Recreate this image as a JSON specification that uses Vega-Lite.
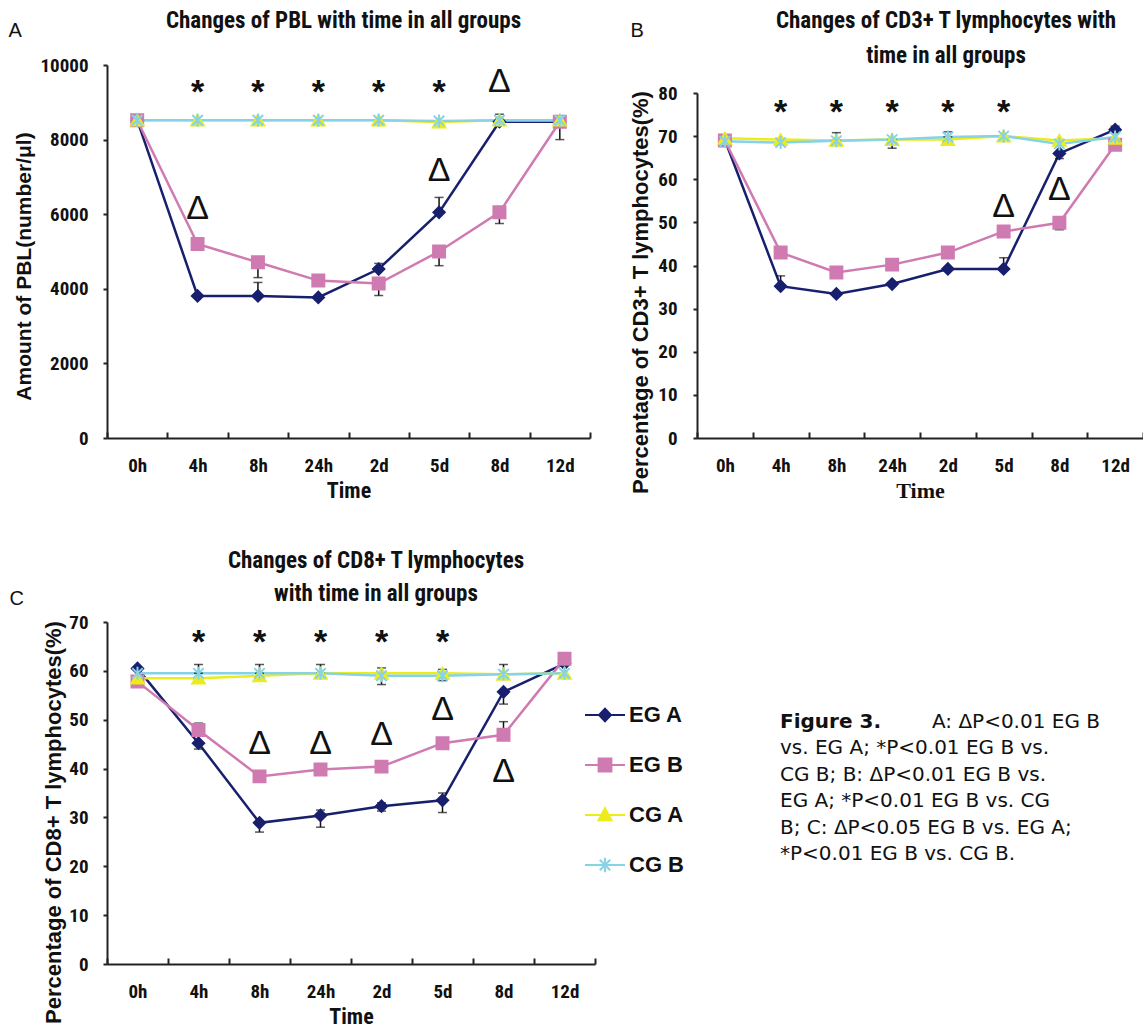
{
  "$schema": "https://vega.github.io/schema/vega-lite/v6.json",
  "background": "white",
  "padding": {"left": 8, "top": 10, "right": 0, "bottom": 0},
  "bounds": "flush",
  "columns": 2,
  "spacing": {"row": 184, "column": 102},
  "resolve": {"scale": {"x": "independent", "y": "independent", "fill": "independent", "stroke": "independent", "shape": "independent", "size": "independent"}},
  "config": {
    "view": {"stroke": null},
    "font": "Liberation Sans",
    "title": {"font": "Roboto Condensed, Liberation Sans", "fontSize": 23, "fontWeight": "bold", "color": "#111", "anchor": "middle", "frame": "group", "lineHeight": 35},
    "axisX": {"tickBand": "extent", "tickSize": -6, "tickWidth": 2, "tickColor": "#222", "domainWidth": 2, "domainColor": "#222", "labelPadding": 24, "labelAngle": 0, "labelFont": "Roboto Condensed, Liberation Sans", "labelFontSize": 19, "labelFontWeight": "bold", "labelColor": "#111", "titleFont": "Roboto Condensed, Liberation Sans", "titleFontSize": 22, "titleFontWeight": "bold", "titleColor": "#111", "titleBaseline": "middle", "titleY": 52, "grid": false},
    "axisY": {"tickSize": 4, "tickWidth": 2, "tickColor": "#222", "domainWidth": 2, "domainColor": "#222", "labelPadding": 15, "labelFont": "Roboto Condensed, Liberation Sans", "labelFontSize": 19, "labelFontWeight": "bold", "labelColor": "#111", "titleFont": "Liberation Sans", "titleFontSize": 21, "titleFontWeight": "bold", "titleColor": "#111", "titleAngle": -90, "titleBaseline": "middle", "titleAlign": "center", "grid": false}
  },
  "datasets": {
    "a_s": [
      {"group": "EG A", "time": "0h", "v": 8520}, {"group": "EG A", "time": "4h", "v": 3810}, {"group": "EG A", "time": "8h", "v": 3810}, {"group": "EG A", "time": "24h", "v": 3770}, {"group": "EG A", "time": "2d", "v": 4530}, {"group": "EG A", "time": "5d", "v": 6050}, {"group": "EG A", "time": "8d", "v": 8480}, {"group": "EG A", "time": "12d", "v": 8480},
      {"group": "EG B", "time": "0h", "v": 8520}, {"group": "EG B", "time": "4h", "v": 5200}, {"group": "EG B", "time": "8h", "v": 4710}, {"group": "EG B", "time": "24h", "v": 4220}, {"group": "EG B", "time": "2d", "v": 4140}, {"group": "EG B", "time": "5d", "v": 5000}, {"group": "EG B", "time": "8d", "v": 6050}, {"group": "EG B", "time": "12d", "v": 8480},
      {"group": "CG A", "time": "0h", "v": 8520}, {"group": "CG A", "time": "4h", "v": 8520}, {"group": "CG A", "time": "8h", "v": 8520}, {"group": "CG A", "time": "24h", "v": 8520}, {"group": "CG A", "time": "2d", "v": 8520}, {"group": "CG A", "time": "5d", "v": 8470}, {"group": "CG A", "time": "8d", "v": 8520}, {"group": "CG A", "time": "12d", "v": 8520},
      {"group": "CG B", "time": "0h", "v": 8520}, {"group": "CG B", "time": "4h", "v": 8520}, {"group": "CG B", "time": "8h", "v": 8520}, {"group": "CG B", "time": "24h", "v": 8520}, {"group": "CG B", "time": "2d", "v": 8520}, {"group": "CG B", "time": "5d", "v": 8500}, {"group": "CG B", "time": "8d", "v": 8520}, {"group": "CG B", "time": "12d", "v": 8520}
    ],
    "a_e": [
      {"group": "EG A", "time": "8h", "lo": 3810, "hi": 4170}, {"group": "EG A", "time": "2d", "lo": 4530, "hi": 4680}, {"group": "EG A", "time": "5d", "lo": 6050, "hi": 6450}, {"group": "EG A", "time": "8d", "lo": 8480, "hi": 8680},
      {"group": "EG B", "time": "8h", "lo": 4300, "hi": 4710}, {"group": "EG B", "time": "2d", "lo": 3820, "hi": 4140}, {"group": "EG B", "time": "5d", "lo": 4620, "hi": 5000}, {"group": "EG B", "time": "8d", "lo": 5750, "hi": 6050}, {"group": "EG B", "time": "12d", "lo": 8000, "hi": 8480}
    ],
    "a_n": [
      {"time": "4h", "sym": "*", "v": 9460}, {"time": "8h", "sym": "*", "v": 9460}, {"time": "24h", "sym": "*", "v": 9460}, {"time": "2d", "sym": "*", "v": 9460}, {"time": "5d", "sym": "*", "v": 9460},
      {"time": "8d", "sym": "Δ", "v": 9600}, {"time": "4h", "sym": "Δ", "v": 6190}, {"time": "5d", "sym": "Δ", "v": 7220}
    ],
    "b_s": [
      {"group": "EG A", "time": "0h", "v": 69.1}, {"group": "EG A", "time": "4h", "v": 35.2}, {"group": "EG A", "time": "8h", "v": 33.4}, {"group": "EG A", "time": "24h", "v": 35.7}, {"group": "EG A", "time": "2d", "v": 39.2}, {"group": "EG A", "time": "5d", "v": 39.2}, {"group": "EG A", "time": "8d", "v": 66.0}, {"group": "EG A", "time": "12d", "v": 71.5},
      {"group": "EG B", "time": "0h", "v": 69.0}, {"group": "EG B", "time": "4h", "v": 43.0}, {"group": "EG B", "time": "8h", "v": 38.4}, {"group": "EG B", "time": "24h", "v": 40.2}, {"group": "EG B", "time": "2d", "v": 43.0}, {"group": "EG B", "time": "5d", "v": 47.9}, {"group": "EG B", "time": "8d", "v": 49.9}, {"group": "EG B", "time": "12d", "v": 68.0},
      {"group": "CG A", "time": "0h", "v": 69.5}, {"group": "CG A", "time": "4h", "v": 69.2}, {"group": "CG A", "time": "8h", "v": 69.0}, {"group": "CG A", "time": "24h", "v": 69.2}, {"group": "CG A", "time": "2d", "v": 69.2}, {"group": "CG A", "time": "5d", "v": 70.0}, {"group": "CG A", "time": "8d", "v": 69.0}, {"group": "CG A", "time": "12d", "v": 69.5},
      {"group": "CG B", "time": "0h", "v": 68.8}, {"group": "CG B", "time": "4h", "v": 68.5}, {"group": "CG B", "time": "8h", "v": 68.9}, {"group": "CG B", "time": "24h", "v": 69.2}, {"group": "CG B", "time": "2d", "v": 69.8}, {"group": "CG B", "time": "5d", "v": 70.0}, {"group": "CG B", "time": "8d", "v": 68.2}, {"group": "CG B", "time": "12d", "v": 69.8}
    ],
    "b_e": [
      {"group": "EG A", "time": "4h", "lo": 35.2, "hi": 37.6}, {"group": "EG A", "time": "5d", "lo": 39.2, "hi": 41.8}, {"group": "EG A", "time": "8d", "lo": 64.8, "hi": 66.0}, {"group": "EG A", "time": "12d", "lo": 71.5, "hi": 72.3},
      {"group": "EG B", "time": "8d", "lo": 48.3, "hi": 49.9},
      {"group": "CG A", "time": "8h", "lo": 69.0, "hi": 70.8}, {"group": "CG A", "time": "24h", "lo": 67.2, "hi": 69.2}, {"group": "CG B", "time": "2d", "lo": 69.8, "hi": 71.0}
    ],
    "b_n": [
      {"time": "4h", "sym": "*", "v": 77.3}, {"time": "8h", "sym": "*", "v": 77.3}, {"time": "24h", "sym": "*", "v": 77.3}, {"time": "2d", "sym": "*", "v": 77.3}, {"time": "5d", "sym": "*", "v": 77.3},
      {"time": "5d", "sym": "Δ", "v": 54.0}, {"time": "8d", "sym": "Δ", "v": 57.9}
    ],
    "c_s": [
      {"group": "EG A", "time": "0h", "v": 60.5}, {"group": "EG A", "time": "4h", "v": 45.2}, {"group": "EG A", "time": "8h", "v": 28.9}, {"group": "EG A", "time": "24h", "v": 30.4}, {"group": "EG A", "time": "2d", "v": 32.3}, {"group": "EG A", "time": "5d", "v": 33.5}, {"group": "EG A", "time": "8d", "v": 55.7}, {"group": "EG A", "time": "12d", "v": 61.5},
      {"group": "EG B", "time": "0h", "v": 57.8}, {"group": "EG B", "time": "4h", "v": 47.9}, {"group": "EG B", "time": "8h", "v": 38.4}, {"group": "EG B", "time": "24h", "v": 39.8}, {"group": "EG B", "time": "2d", "v": 40.4}, {"group": "EG B", "time": "5d", "v": 45.2}, {"group": "EG B", "time": "8d", "v": 46.9}, {"group": "EG B", "time": "12d", "v": 62.5},
      {"group": "CG A", "time": "0h", "v": 58.5}, {"group": "CG A", "time": "4h", "v": 58.5}, {"group": "CG A", "time": "8h", "v": 59.0}, {"group": "CG A", "time": "24h", "v": 59.5}, {"group": "CG A", "time": "2d", "v": 59.5}, {"group": "CG A", "time": "5d", "v": 59.5}, {"group": "CG A", "time": "8d", "v": 59.3}, {"group": "CG A", "time": "12d", "v": 59.5},
      {"group": "CG B", "time": "0h", "v": 59.5}, {"group": "CG B", "time": "4h", "v": 59.5}, {"group": "CG B", "time": "8h", "v": 59.5}, {"group": "CG B", "time": "24h", "v": 59.5}, {"group": "CG B", "time": "2d", "v": 59.0}, {"group": "CG B", "time": "5d", "v": 59.0}, {"group": "CG B", "time": "8d", "v": 59.3}, {"group": "CG B", "time": "12d", "v": 59.5}
    ],
    "c_e": [
      {"group": "EG A", "time": "4h", "lo": 44.0, "hi": 45.2}, {"group": "EG A", "time": "8h", "lo": 27.0, "hi": 28.9}, {"group": "EG A", "time": "24h", "lo": 28.0, "hi": 31.5}, {"group": "EG A", "time": "2d", "lo": 31.3, "hi": 33.0}, {"group": "EG A", "time": "5d", "lo": 31.0, "hi": 35.0}, {"group": "EG A", "time": "8d", "lo": 53.2, "hi": 55.7},
      {"group": "EG B", "time": "4h", "lo": 47.9, "hi": 49.3}, {"group": "EG B", "time": "8d", "lo": 46.9, "hi": 49.6},
      {"group": "CG B", "time": "4h", "lo": 59.5, "hi": 61.3}, {"group": "CG B", "time": "8h", "lo": 59.5, "hi": 61.3}, {"group": "CG B", "time": "24h", "lo": 59.5, "hi": 61.3}, {"group": "CG B", "time": "2d", "lo": 57.2, "hi": 60.6}, {"group": "CG B", "time": "5d", "lo": 58.0, "hi": 60.3}, {"group": "CG B", "time": "8d", "lo": 59.3, "hi": 61.3}
    ],
    "c_n": [
      {"time": "4h", "sym": "*", "v": 67.3}, {"time": "8h", "sym": "*", "v": 67.3}, {"time": "24h", "sym": "*", "v": 67.3}, {"time": "2d", "sym": "*", "v": 67.3}, {"time": "5d", "sym": "*", "v": 67.3},
      {"time": "8h", "sym": "Δ", "v": 45.5}, {"time": "24h", "sym": "Δ", "v": 45.5}, {"time": "2d", "sym": "Δ", "v": 47.2}, {"time": "5d", "sym": "Δ", "v": 52.3}, {"time": "8d", "sym": "Δ", "v": 39.8}
    ],
    "cap": [
      {"line": 1, "part": "label", "text": "Figure 3."},
      {"line": 1, "part": "tail", "text": "A: ΔP<0.01 EG B"},
      {"line": 2, "part": "body", "text": "vs. EG A; *P<0.01 EG B vs."},
      {"line": 3, "part": "body", "text": "CG B; B: ΔP<0.01 EG B vs."},
      {"line": 4, "part": "body", "text": "EG A; *P<0.01 EG B vs. CG"},
      {"line": 5, "part": "body", "text": "B; C: ΔP<0.05 EG B vs. EG A;"},
      {"line": 6, "part": "body", "text": "*P<0.01 EG B vs. CG B."}
    ]
  },
  "concat": [
    {
      "width": 483, "height": 373,
      "title": {"text": "Changes of PBL with time in all groups", "dx": -5, "offset": -13},
      "resolve": {"axis": {"x": "independent"}},
      "layer": [
        {"data": {"name": "a_s"}, "mark": {"type": "line", "strokeWidth": 2.5},
         "encoding": {
           "x": {"field": "time", "type": "ordinal", "sort": ["0h","4h","8h","24h","2d","5d","8d","12d"], "scale": {"type": "band", "paddingInner": 0, "paddingOuter": 0}, "axis": {"title": "Time"}},
           "y": {"field": "v", "type": "quantitative", "title": "Amount of PBL(number/μl)", "scale": {"domain": [0, 10000]}, "axis": {"title": "Amount of PBL(number/μl)", "values": [0, 2000, 4000, 6000, 8000, 10000], "format": "d", "titleX": -83, "titleY": 201}},
           "stroke": {"field": "group", "type": "nominal", "scale": {"domain": ["EG A","EG B","CG A","CG B"], "range": ["#18206e","#d07ab2","#ecec1c","#86d3e8"]}, "legend": null}}},
        {"data": {"name": "a_e"}, "mark": {"type": "errorbar", "ticks": true, "color": "#111", "thickness": 1.5, "size": 9},
         "encoding": {
           "x": {"field": "time", "type": "ordinal", "sort": ["0h","4h","8h","24h","2d","5d","8d","12d"], "axis": null},
           "y": {"field": "lo", "type": "quantitative", "title": "Amount of PBL(number/μl)"},
           "y2": {"field": "hi"}}},
        {"data": {"name": "a_s"}, "mark": {"type": "point", "filled": true, "opacity": 1, "strokeWidth": 2},
         "encoding": {
           "x": {"field": "time", "type": "ordinal", "sort": ["0h","4h","8h","24h","2d","5d","8d","12d"], "axis": null},
           "y": {"field": "v", "type": "quantitative", "title": "Amount of PBL(number/μl)"},
           "fill": {"field": "group", "type": "nominal", "scale": {"domain": ["EG A","EG B","CG A","CG B"], "range": ["#18206e","#d07ab2","#ecec1c","#86d3e8"]}, "legend": null},
           "stroke": {"field": "group", "type": "nominal", "scale": {"domain": ["EG A","EG B","CG A","CG B"], "range": ["#18206e","#d07ab2","#ecec1c","#86d3e8"]}, "legend": null},
           "shape": {"field": "group", "type": "nominal", "scale": {"domain": ["EG A","EG B","CG A","CG B"], "range": ["diamond","square","triangle-up","M-0.8,-0.8L0.8,0.8M-0.8,0.8L0.8,-0.8M0,-1V1"]}, "legend": null},
           "size": {"field": "group", "type": "nominal", "scale": {"domain": ["EG A","EG B","CG A","CG B"], "range": [130, 170, 140, 180]}, "legend": null}}},
        {"data": {"name": "a_n"}, "transform": [{"filter": "datum.sym == '*'"}],
         "mark": {"type": "text", "font": "Liberation Sans", "fontSize": 34, "fontWeight": "bold", "dy": 8, "color": "#111"},
         "encoding": {
           "x": {"field": "time", "type": "ordinal", "sort": ["0h","4h","8h","24h","2d","5d","8d","12d"], "axis": null},
           "y": {"field": "v", "type": "quantitative", "title": "Amount of PBL(number/μl)"},
           "text": {"field": "sym"}}},
        {"data": {"name": "a_n"}, "transform": [{"filter": "datum.sym != '*'"}],
         "mark": {"type": "text", "font": "Liberation Sans", "fontSize": 34, "dy": 2, "color": "#111"},
         "encoding": {
           "x": {"field": "time", "type": "ordinal", "sort": ["0h","4h","8h","24h","2d","5d","8d","12d"], "axis": {"orient": "top", "title": "A", "titleX": -99, "titleY": -35, "titleAngle": 0, "titleAlign": "left", "titleBaseline": "middle", "titleFont": "Liberation Sans", "titleFontSize": 20, "titleFontWeight": "normal", "labels": false, "ticks": false, "domain": false}},
           "y": {"field": "v", "type": "quantitative", "title": "Amount of PBL(number/μl)"},
           "text": {"field": "sym"}}}
      ]
    },
    {
      "width": 446, "height": 373,
      "title": {"text": ["Changes of CD3+ T lymphocytes with", "time in all groups"], "dx": 26, "offset": -48},
      "resolve": {"axis": {"x": "independent"}},
      "layer": [
        {"data": {"name": "b_s"}, "mark": {"type": "line", "strokeWidth": 2.5},
         "encoding": {
           "x": {"field": "time", "type": "ordinal", "sort": ["0h","4h","8h","24h","2d","5d","8d","12d"], "scale": {"type": "band", "paddingInner": 0, "paddingOuter": 0}, "axis": {"title": "Time", "titleFont": "Liberation Serif", "titleFontSize": 22}},
           "y": {"field": "v", "type": "quantitative", "title": "Percentage of CD3+ T lymphocytes(%)", "scale": {"domain": [0, 80], "range": [373, 28]}, "axis": {"title": "Percentage of CD3+ T lymphocytes(%)", "values": [0, 10, 20, 30, 40, 50, 60, 70, 80], "titleX": -57, "titleY": 227, "titleFontSize": 22, "labelPadding": 16}},
           "stroke": {"field": "group", "type": "nominal", "scale": {"domain": ["EG A","EG B","CG A","CG B"], "range": ["#18206e","#d07ab2","#ecec1c","#86d3e8"]}, "legend": null}}},
        {"data": {"name": "b_e"}, "mark": {"type": "errorbar", "ticks": true, "color": "#111", "thickness": 1.5, "size": 9},
         "encoding": {
           "x": {"field": "time", "type": "ordinal", "sort": ["0h","4h","8h","24h","2d","5d","8d","12d"], "axis": null},
           "y": {"field": "lo", "type": "quantitative", "title": "Percentage of CD3+ T lymphocytes(%)"},
           "y2": {"field": "hi"}}},
        {"data": {"name": "b_s"}, "mark": {"type": "point", "filled": true, "opacity": 1, "strokeWidth": 2},
         "encoding": {
           "x": {"field": "time", "type": "ordinal", "sort": ["0h","4h","8h","24h","2d","5d","8d","12d"], "axis": null},
           "y": {"field": "v", "type": "quantitative", "title": "Percentage of CD3+ T lymphocytes(%)"},
           "fill": {"field": "group", "type": "nominal", "scale": {"domain": ["EG A","EG B","CG A","CG B"], "range": ["#18206e","#d07ab2","#ecec1c","#86d3e8"]}, "legend": null},
           "stroke": {"field": "group", "type": "nominal", "scale": {"domain": ["EG A","EG B","CG A","CG B"], "range": ["#18206e","#d07ab2","#ecec1c","#86d3e8"]}, "legend": null},
           "shape": {"field": "group", "type": "nominal", "scale": {"domain": ["EG A","EG B","CG A","CG B"], "range": ["diamond","square","triangle-up","M-0.8,-0.8L0.8,0.8M-0.8,0.8L0.8,-0.8M0,-1V1"]}, "legend": null},
           "size": {"field": "group", "type": "nominal", "scale": {"domain": ["EG A","EG B","CG A","CG B"], "range": [130, 170, 140, 180]}, "legend": null}}},
        {"data": {"name": "b_n"}, "transform": [{"filter": "datum.sym == '*'"}],
         "mark": {"type": "text", "font": "Liberation Sans", "fontSize": 34, "fontWeight": "bold", "dy": 8, "color": "#111"},
         "encoding": {
           "x": {"field": "time", "type": "ordinal", "sort": ["0h","4h","8h","24h","2d","5d","8d","12d"], "axis": null},
           "y": {"field": "v", "type": "quantitative", "title": "Percentage of CD3+ T lymphocytes(%)"},
           "text": {"field": "sym"}}},
        {"data": {"name": "b_n"}, "transform": [{"filter": "datum.sym != '*'"}],
         "mark": {"type": "text", "font": "Liberation Sans", "fontSize": 34, "dy": 2, "color": "#111"},
         "encoding": {
           "x": {"field": "time", "type": "ordinal", "sort": ["0h","4h","8h","24h","2d","5d","8d","12d"], "axis": {"orient": "top", "title": "B", "titleX": -67, "titleY": -35, "titleAngle": 0, "titleAlign": "left", "titleBaseline": "middle", "titleFont": "Liberation Sans", "titleFontSize": 20, "titleFontWeight": "normal", "labels": false, "ticks": false, "domain": false}},
           "y": {"field": "v", "type": "quantitative", "title": "Percentage of CD3+ T lymphocytes(%)"},
           "text": {"field": "sym"}}}
      ]
    },
    {
      "width": 488, "height": 342,
      "title": {"text": ["Changes of CD8+ T lymphocytes", "with time in all groups"], "dx": 25, "offset": -18, "lineHeight": 33},
      "resolve": {"axis": {"x": "independent"}, "scale": {"fill": "independent", "stroke": "independent", "shape": "independent", "size": "independent"}},
      "layer": [
        {"data": {"name": "c_s"}, "mark": {"type": "line", "strokeWidth": 2.5},
         "encoding": {
           "x": {"field": "time", "type": "ordinal", "sort": ["0h","4h","8h","24h","2d","5d","8d","12d"], "scale": {"type": "band", "paddingInner": 0, "paddingOuter": 0}, "axis": {"title": "Time"}},
           "y": {"field": "v", "type": "quantitative", "title": "Percentage of CD8+ T lymphocytes(%)", "scale": {"domain": [0, 70]}, "axis": {"title": "Percentage of CD8+ T lymphocytes(%)", "values": [0, 10, 20, 30, 40, 50, 60, 70], "titleX": -54, "titleY": 200, "titleFontSize": 22}},
           "stroke": {"field": "group", "type": "nominal", "scale": {"domain": ["EG A","EG B","CG A","CG B"], "range": ["#18206e","#d07ab2","#ecec1c","#86d3e8"]}, "legend": null}}},
        {"data": {"name": "c_e"}, "mark": {"type": "errorbar", "ticks": true, "color": "#111", "thickness": 1.5, "size": 9},
         "encoding": {
           "x": {"field": "time", "type": "ordinal", "sort": ["0h","4h","8h","24h","2d","5d","8d","12d"], "axis": null},
           "y": {"field": "lo", "type": "quantitative", "title": "Percentage of CD8+ T lymphocytes(%)"},
           "y2": {"field": "hi"}}},
        {"data": {"name": "c_s"}, "mark": {"type": "point", "filled": true, "opacity": 1, "strokeWidth": 2},
         "encoding": {
           "x": {"field": "time", "type": "ordinal", "sort": ["0h","4h","8h","24h","2d","5d","8d","12d"], "axis": null},
           "y": {"field": "v", "type": "quantitative", "title": "Percentage of CD8+ T lymphocytes(%)"},
           "fill": {"field": "group", "type": "nominal", "scale": {"domain": ["EG A","EG B","CG A","CG B"], "range": ["#18206e","#d07ab2","#ecec1c","#86d3e8"]}, "legend": null},
           "stroke": {"field": "group", "type": "nominal", "scale": {"domain": ["EG A","EG B","CG A","CG B"], "range": ["#18206e","#d07ab2","#ecec1c","#86d3e8"]}, "legend": null},
           "shape": {"field": "group", "type": "nominal", "scale": {"domain": ["EG A","EG B","CG A","CG B"], "range": ["diamond","square","triangle-up","M-0.8,-0.8L0.8,0.8M-0.8,0.8L0.8,-0.8M0,-1V1"]}, "legend": null},
           "size": {"field": "group", "type": "nominal", "scale": {"domain": ["EG A","EG B","CG A","CG B"], "range": [130, 170, 140, 180]}, "legend": null}}},
        {"data": {"name": "c_s"}, "mark": {"type": "point", "filled": true, "opacity": 0},
         "encoding": {
           "x": {"field": "time", "type": "ordinal", "sort": ["0h","4h","8h","24h","2d","5d","8d","12d"], "axis": null},
           "y": {"field": "v", "type": "quantitative", "title": "Percentage of CD8+ T lymphocytes(%)"},
           "fill": {"field": "group", "type": "nominal", "scale": {"domain": ["EG A","EG B","CG A","CG B"], "range": ["#18206e","#d07ab2","#ecec1c","#86d3e8"]},
             "legend": {"orient": "none", "legendX": 477, "legendY": 72, "title": null, "symbolSize": 1600, "symbolStrokeWidth": 2, "symbolOpacity": 1, "labelFont": "Liberation Sans", "labelFontSize": 22, "labelFontWeight": "bold", "labelColor": "#111", "labelOffset": 3, "rowPadding": 18, "padding": 0, "labelLimit": 200}},
           "stroke": {"field": "group", "type": "nominal", "scale": {"domain": ["EG A","EG B","CG A","CG B"], "range": ["#18206e","#d07ab2","#ecec1c","#86d3e8"]},
             "legend": {"orient": "none", "legendX": 477, "legendY": 72, "title": null, "symbolSize": 1600, "symbolStrokeWidth": 2, "symbolOpacity": 1, "labelFont": "Liberation Sans", "labelFontSize": 22, "labelFontWeight": "bold", "labelColor": "#111", "labelOffset": 3, "rowPadding": 18, "padding": 0, "labelLimit": 200}},
           "shape": {"field": "group", "type": "nominal", "scale": {"domain": ["EG A","EG B","CG A","CG B"], "range": ["M-1,0H1M0,-0.32L0.3,0L0,0.32L-0.3,0Z", "M-1,0H1M-0.32,-0.32H0.32V0.32H-0.32Z", "M-1,0H1M0,-0.34L0.32,0.26H-0.32Z", "M-1,0H1M-0.26,-0.26L0.26,0.26M-0.26,0.26L0.26,-0.26M0,-0.36V0.36"]},
             "legend": {"orient": "none", "legendX": 477, "legendY": 72, "title": null, "symbolSize": 1600, "symbolStrokeWidth": 2, "symbolOpacity": 1, "labelFont": "Liberation Sans", "labelFontSize": 22, "labelFontWeight": "bold", "labelColor": "#111", "labelOffset": 3, "rowPadding": 18, "padding": 0, "labelLimit": 200}}}},
        {"data": {"name": "c_n"}, "transform": [{"filter": "datum.sym == '*'"}],
         "mark": {"type": "text", "font": "Liberation Sans", "fontSize": 34, "fontWeight": "bold", "dy": 8, "color": "#111"},
         "encoding": {
           "x": {"field": "time", "type": "ordinal", "sort": ["0h","4h","8h","24h","2d","5d","8d","12d"], "axis": null},
           "y": {"field": "v", "type": "quantitative", "title": "Percentage of CD8+ T lymphocytes(%)"},
           "text": {"field": "sym"}}},
        {"data": {"name": "c_n"}, "transform": [{"filter": "datum.sym != '*'"}],
         "mark": {"type": "text", "font": "Liberation Sans", "fontSize": 34, "dy": 2, "color": "#111"},
         "encoding": {
           "x": {"field": "time", "type": "ordinal", "sort": ["0h","4h","8h","24h","2d","5d","8d","12d"], "axis": {"orient": "top", "title": "C", "titleX": -98, "titleY": -24, "titleAngle": 0, "titleAlign": "left", "titleBaseline": "middle", "titleFont": "Liberation Sans", "titleFontSize": 20, "titleFontWeight": "normal", "labels": false, "ticks": false, "domain": false}},
           "y": {"field": "v", "type": "quantitative", "title": "Percentage of CD8+ T lymphocytes(%)"},
           "text": {"field": "sym"}}}
      ]
    },
    {
      "width": 446, "height": 342,
      "layer": [
        {"data": {"name": "cap"}, "transform": [{"filter": "datum.part == 'label'"}],
         "mark": {"type": "text", "align": "left", "baseline": "middle", "font": "DejaVu Sans", "fontSize": 20, "fontWeight": "bold", "color": "#111"},
         "encoding": {
           "x": {"datum": "start", "type": "nominal", "scale": {"type": "point", "domain": ["start", "end"], "range": [83, 403], "padding": 0}, "axis": null},
           "y": {"field": "line", "type": "ordinal", "scale": {"type": "point", "domain": [1, 2, 3, 4, 5, 6], "range": [100, 232], "padding": 0}, "axis": null},
           "text": {"field": "text"}}},
        {"data": {"name": "cap"}, "transform": [{"filter": "datum.part == 'body'"}],
         "mark": {"type": "text", "align": "left", "baseline": "middle", "font": "DejaVu Sans", "fontSize": 20, "color": "#111"},
         "encoding": {
           "x": {"datum": "start", "type": "nominal", "axis": null},
           "y": {"field": "line", "type": "ordinal", "axis": null},
           "text": {"field": "text"}}},
        {"data": {"name": "cap"}, "transform": [{"filter": "datum.part == 'tail'"}],
         "mark": {"type": "text", "align": "right", "baseline": "middle", "font": "DejaVu Sans", "fontSize": 20, "color": "#111"},
         "encoding": {
           "x": {"datum": "end", "type": "nominal", "axis": null},
           "y": {"field": "line", "type": "ordinal", "axis": null},
           "text": {"field": "text"}}}
      ]
    }
  ]
}
